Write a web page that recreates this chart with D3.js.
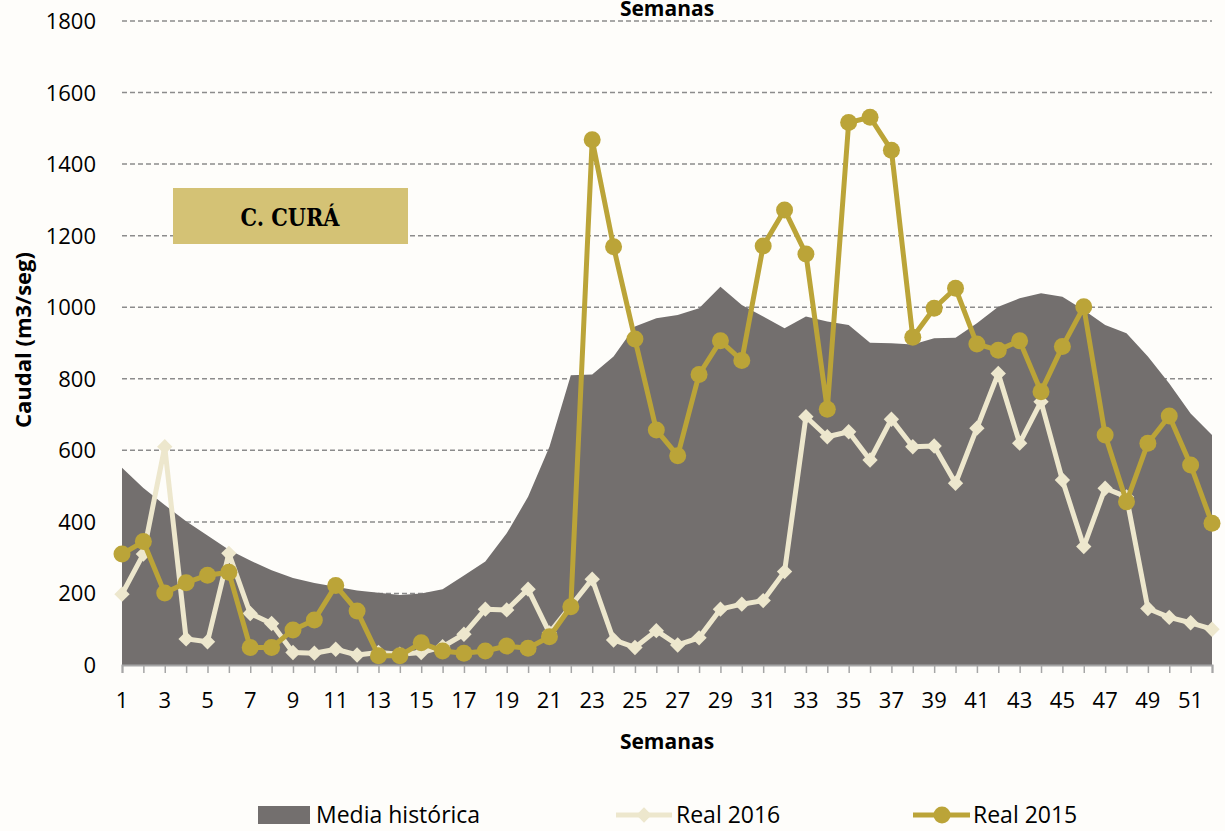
<!DOCTYPE html>
<html>
<head>
<meta charset="utf-8">
<script src="https://cdn.jsdelivr.net/npm/d3@7"></script>
<style>
  body { margin: 0; background: #fefdfa; }
  svg { display: block; }
  text { font-family: "Open Sans", "Noto Sans", sans-serif; fill: #000; }
</style>
</head>
<body>
<div id="chart"></div>
<script>
// weeks 1..52
var weeks = d3.range(1, 53)

// Media histórica (area)
var mediaHistorica = [551, 495, 447, 402, 362, 322, 292, 265, 243, 229,
  219, 208, 202, 196, 200, 212, 250, 289, 368, 470,
  610, 810, 812, 862, 946, 969, 978, 997, 1057, 1006,
  974, 941, 974, 960, 950, 901, 899, 896, 913, 915,
  955, 1001, 1025, 1039, 1029, 992, 950, 927, 862, 787,
  703, 643]

// Real 2016 (diamonds)
var real2016 = [198, 310, 610, 73, 65, 312, 144, 116, 35, 33,
  44, 28, 35, 30, 35, 51, 86, 156, 154, 212,
  90, 165, 240, 70, 49, 96, 56, 76, 156, 170,
  180, 261, 694, 638, 652, 573, 687, 610, 612, 508,
  662, 815, 620, 736, 517, 331, 494, 470, 158, 133,
  118, 100]

// Real 2015 (circles)
var real2015 = [310, 345, 201, 230, 251, 259, 49, 49, 98, 126,
  222, 151, 26, 26, 62, 39, 33, 39, 53, 47,
  79, 163, 1468, 1169, 911, 657, 585, 812, 906, 851,
  1171, 1272, 1149, 715, 1516, 1531, 1439, 916, 997, 1053,
  897, 880, 906, 764, 890, 1001, 643, 456, 620, 696,
  559, 396]

var yTicks = d3.range(0, 2000, 200)
var xTickLabels = weeks.filter(function(w){ return w % 2 == 1 })

var width = 1225, height = 831
var colArea = "#736f6e", col2016 = "#ede7cd", col2015 = "#bba438"

var svg = d3.select("#chart").append("svg")
  .attr("width", width)
  .attr("height", height)

var x = d3.scaleLinear().domain([1, 52]).range([122, 1212])
var y = d3.scaleLinear().domain([0, 1800]).range([665, 21])

// gridlines
svg.append("g")
  .selectAll("line")
  .data(yTicks.filter(function(d){ return d > 0 }))
  .enter().append("line")
  .attr("x1", x(1)).attr("x2", x(52))
  .attr("y1", d => y(d)).attr("y2", d => y(d))
  .attr("stroke", "#8c8c8c")
  .attr("stroke-width", 1.5)
  .attr("stroke-dasharray", "5,3")

// y tick labels
svg.append("g")
  .selectAll("text")
  .data(yTicks)
  .enter().append("text")
  .attr("x", 96)
  .attr("y", d => y(d) + 8)
  .attr("text-anchor", "end")
  .style("font-size", "22px")
  .text(d => d)

// area
var area = d3.area()
  .x((d, i) => x(weeks[i]))
  .y0(y(0))
  .y1(d => y(d))

svg.append("path")
  .datum(mediaHistorica)
  .attr("d", area)
  .attr("fill", colArea)

// x axis
var xAxis = svg.append("g")
  .attr("transform", "translate(0," + y(0) + ")")
  .call(d3.axisBottom(x).tickValues(weeks).tickSize(8).tickFormat(""))
xAxis.select(".domain").attr("stroke", "#a6a6a6").attr("stroke-width", 2)
xAxis.selectAll(".tick line").attr("stroke", "#a6a6a6").attr("stroke-width", 1.5)

svg.append("g")
  .selectAll("text")
  .data(xTickLabels)
  .enter().append("text")
  .attr("x", d => x(d))
  .attr("y", 708)
  .attr("text-anchor", "middle")
  .style("font-size", "22px")
  .text(d => d)

var line = d3.line()
  .x((d, i) => x(weeks[i]))
  .y(d => y(d))

// Real 2016
svg.append("path")
  .datum(real2016)
  .attr("d", line)
  .attr("fill", "none")
  .attr("stroke", col2016)
  .attr("stroke-width", 5)
  .attr("stroke-linejoin", "round")

svg.append("g")
  .selectAll("path")
  .data(real2016)
  .enter().append("path")
  .attr("d", d3.symbol().type(d3.symbolDiamond2).size(150))
  .attr("transform", (d, i) => "translate(" + x(weeks[i]) + "," + y(d) + ")")
  .attr("fill", col2016)

// Real 2015
svg.append("path")
  .datum(real2015)
  .attr("d", line)
  .attr("fill", "none")
  .attr("stroke", col2015)
  .attr("stroke-width", 5)
  .attr("stroke-linejoin", "round")

svg.append("g")
  .selectAll("circle")
  .data(real2015)
  .enter().append("circle")
  .attr("cx", (d, i) => x(weeks[i]))
  .attr("cy", d => y(d))
  .attr("r", 8.5)
  .attr("fill", col2015)

// axis titles
svg.append("text")
  .attr("x", 667).attr("y", 16)
  .attr("text-anchor", "middle")
  .style("font-size", "21px").style("font-weight", "bold")
  .text("Semanas")

svg.append("text")
  .attr("x", 667).attr("y", 749)
  .attr("text-anchor", "middle")
  .style("font-size", "21px").style("font-weight", "bold")
  .text("Semanas")

svg.append("text")
  .attr("transform", "translate(31,340) rotate(-90)")
  .attr("text-anchor", "middle")
  .style("font-size", "22px").style("font-weight", "bold")
  .text("Caudal (m3/seg)")

// station label
svg.append("rect")
  .attr("x", 173).attr("y", 188)
  .attr("width", 235).attr("height", 56)
  .attr("fill", "#d4c275")
svg.append("text")
  .attr("x", 290).attr("y", 226)
  .attr("text-anchor", "middle")
  .attr("textLength", 99)
  .attr("lengthAdjust", "spacingAndGlyphs")
  .style("font-family", "'DejaVu Serif', serif")
  .style("font-size", "24px").style("font-weight", "bold")
  .text("C. CURÁ")

// legend
var legend = svg.append("g")
legend.append("rect")
  .attr("x", 258).attr("y", 806)
  .attr("width", 52).attr("height", 18)
  .attr("fill", colArea)
legend.append("text").attr("x", 316).attr("y", 823)
  .style("font-size", "23px").text("Media histórica")

legend.append("line")
  .attr("x1", 616).attr("x2", 672).attr("y1", 815).attr("y2", 815)
  .attr("stroke", col2016).attr("stroke-width", 5)
legend.append("path")
  .attr("d", d3.symbol().type(d3.symbolDiamond2).size(150))
  .attr("transform", "translate(644,815)")
  .attr("fill", col2016)
legend.append("text").attr("x", 676).attr("y", 823)
  .style("font-size", "23px").text("Real 2016")

legend.append("line")
  .attr("x1", 913).attr("x2", 970).attr("y1", 815).attr("y2", 815)
  .attr("stroke", col2015).attr("stroke-width", 5)
legend.append("circle")
  .attr("cx", 942).attr("cy", 815).attr("r", 8.5)
  .attr("fill", col2015)
legend.append("text").attr("x", 973).attr("y", 823)
  .style("font-size", "23px").text("Real 2015")
</script>
</body>
</html>
